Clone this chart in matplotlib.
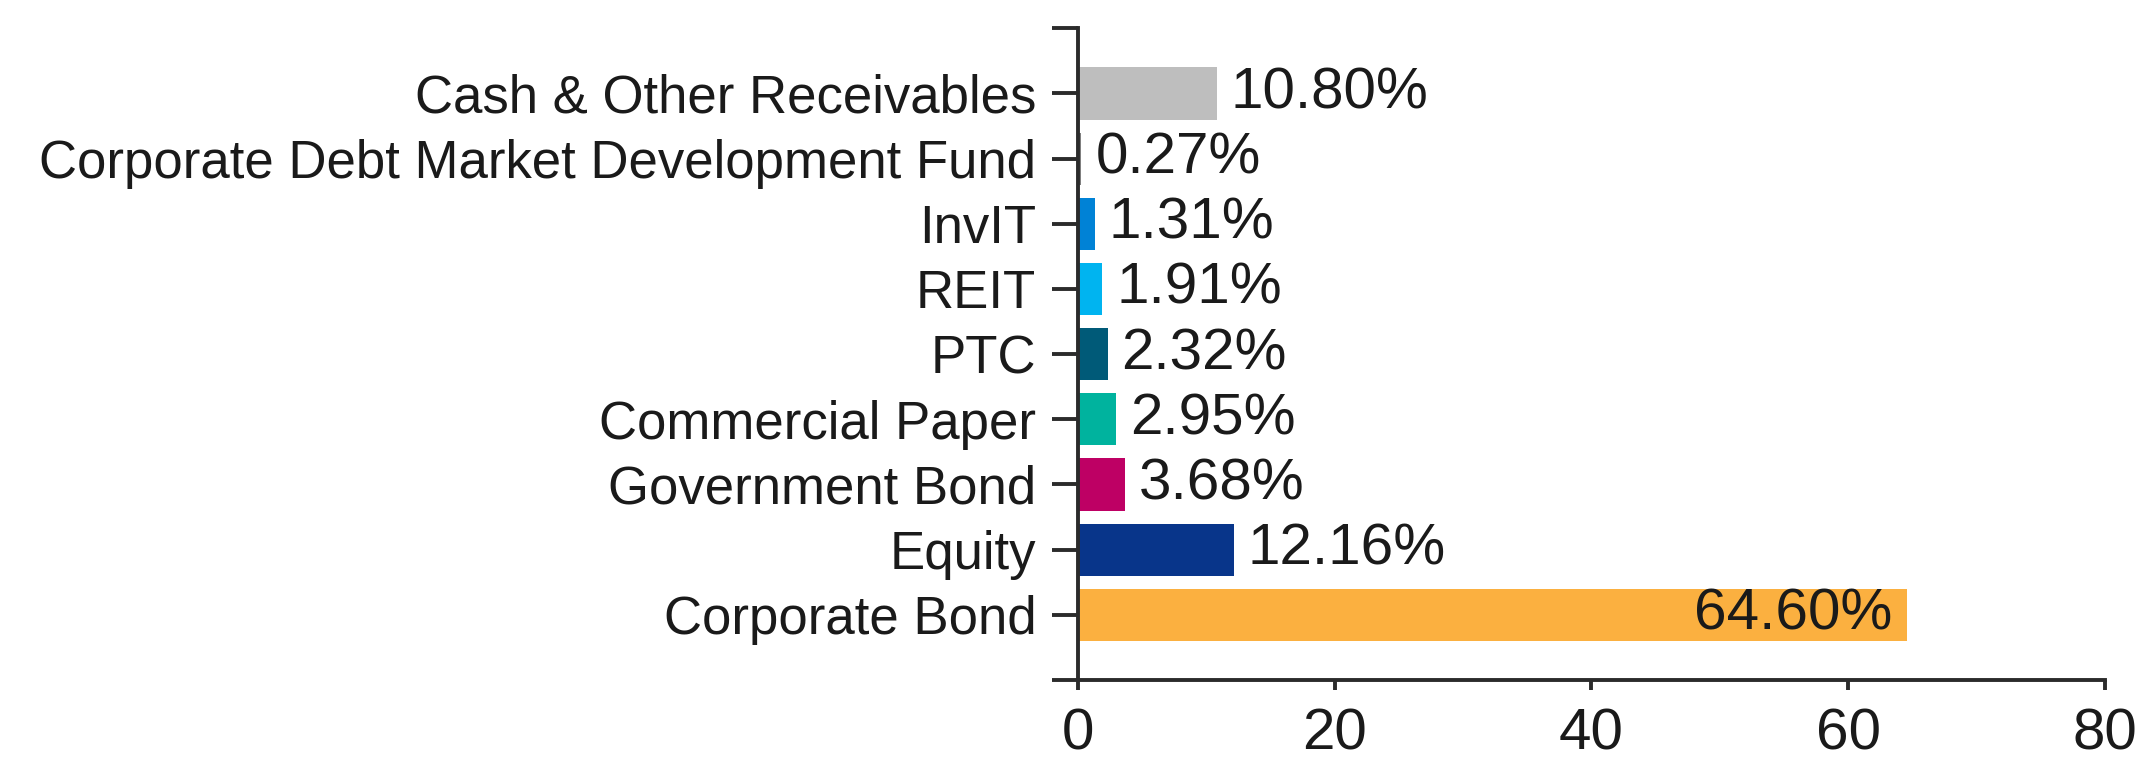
import matplotlib.pyplot as plt

# bottom to top
categories = [
    "Corporate Bond",
    "Equity",
    "Government Bond",
    "Commercial Paper",
    "PTC",
    "REIT",
    "InvIT",
    "Corporate Debt Market Development Fund",
    "Cash & Other Receivables",
]
values = [64.60, 12.16, 3.68, 2.95, 2.32, 1.91, 1.31, 0.27, 10.80]
colors = [
    "#FBB040",
    "#08358A",
    "#BE0064",
    "#00B39E",
    "#005A78",
    "#00B4F0",
    "#0082D6",
    "#7F7F7F",
    "#BEBEBE",
]
x_ticks = [0, 20, 40, 60, 80]

plt.rcParams["font.family"] = ["Liberation Sans", "DejaVu Sans"]

fig = plt.figure(figsize=(21.37, 7.64), dpi=100)
ax = fig.add_axes([0.5044, 0.110, 0.4806, 0.853])

pos = list(range(len(categories)))
ax.barh(pos, values, height=0.8, color=colors, zorder=2)

for p, v in zip(pos, values):
    label = "%.2f%%" % v
    if v > 50:
        ax.annotate(label, (v, p), xytext=(-11, 0), textcoords="offset points",
                    ha="right", va="center", fontsize=42, color="#1a1a1a")
    else:
        ax.annotate(label, (v, p), xytext=(10, 0), textcoords="offset points",
                    ha="left", va="center", fontsize=42, color="#1a1a1a")

ax.set_xlim(0, 80)
ax.set_ylim(-1, len(categories))
ax.set_xticks(x_ticks)
ax.set_xticklabels([str(t) for t in x_ticks])

ax.set_yticks([-1] + pos + [len(categories)])
ax.set_yticklabels([""] + categories + [""])

for side in ["top", "right"]:
    ax.spines[side].set_visible(False)
for side in ["left", "bottom"]:
    ax.spines[side].set_linewidth(2.8)
    ax.spines[side].set_color("#2b2b2b")
    ax.spines[side].set_zorder(3)

ax.tick_params(axis="y", length=19, width=2.8, color="#2b2b2b", pad=11,
               labelsize=38, labelcolor="#1a1a1a")
ax.tick_params(axis="x", length=7, width=2.8, color="#2b2b2b", pad=13,
               labelsize=42, labelcolor="#1a1a1a")

fig.savefig("out.png", dpi=100)
